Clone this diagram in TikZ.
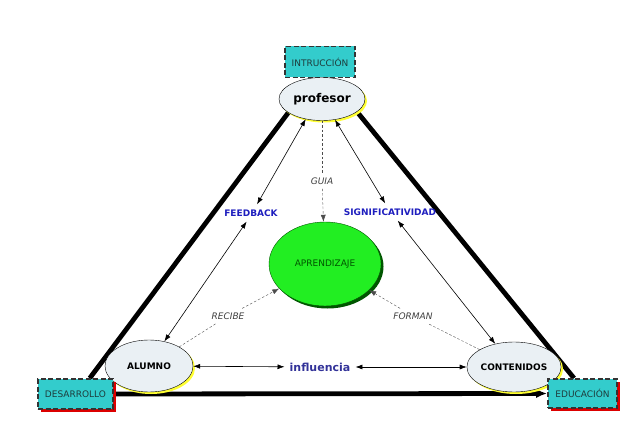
\documentclass[tikz,border=0pt]{standalone}
\usepackage{fontspec}
\setmainfont{DejaVu Sans}
\usepackage{xcolor}
\usepackage{tikz}
\usetikzlibrary{shapes,arrows,arrows.meta,shadows,backgrounds}
\definecolor{turquesa}{RGB}{51,204,204}
\definecolor{grisazul}{RGB}{234,240,244}
\definecolor{amarillo}{RGB}{255,255,51}
\definecolor{verde}{RGB}{34,238,34}
\definecolor{verdeosc}{RGB}{0,85,0}
\definecolor{azul}{RGB}{30,30,190}
\definecolor{azulinf}{RGB}{51,51,153}
\definecolor{rojo}{RGB}{220,0,0}
\definecolor{textocaja}{RGB}{30,60,60}

\begin{document}
\begin{tikzpicture}[x=1pt,y=-1pt,>={Latex[length=7pt,width=5pt]},
        elipse/.style={ellipse,draw,thin,fill=grisazul,inner sep=0pt,
          drop shadow={fill=amarillo,opacity=1,shadow xshift=2pt,shadow yshift=-2pt}},
        caja/.style={rectangle,draw=black!80,line width=1.6pt,dash pattern=on 5pt off 2.5pt,
          fill=turquesa,inner sep=0pt,text=textocaja,font=\fontsize{9}{11}\selectfont},
        sombraroja/.style={drop shadow={fill=rojo,opacity=1,shadow xshift=3pt,shadow yshift=-3pt}},
        etiqueta/.style={inner sep=5pt,text=azul,font=\bfseries\fontsize{9}{11}\selectfont},
        verbo/.style={inner sep=4pt,text=black!75,font=\itshape\fontsize{9}{11}\selectfont},
        gruesa/.style={line width=4.8pt},
        flecha/.style={<->,semithick},
        punteada/.style={black!70,dash pattern=on 2.5pt off 2pt}]
        \useasboundingbox (0,0) rectangle (643,441);
        % vertices
        \node[caja,minimum width=70pt,minimum height=31pt] (instr) at (320,62) {INTRUCCIÓN};
        \node[elipse,minimum width=86pt,minimum height=43pt,font=\bfseries\fontsize{12}{14}\selectfont] (prof) at (322,99) {profesor};
        \node[elipse,minimum width=88pt,minimum height=52pt,font=\bfseries\fontsize{9}{11}\selectfont] (alumno) at (149,366) {ALUMNO};
        \node[elipse,minimum width=93pt,minimum height=50pt,font=\bfseries\fontsize{9}{11}\selectfont] (contenidos) at (514,367) {CONTENIDOS};
        \node[caja,sombraroja,minimum width=75pt,minimum height=30pt] (desarr) at (75.5,394) {DESARROLLO};
        \node[caja,sombraroja,minimum width=69pt,minimum height=29pt] (educ) at (582.5,393.5) {EDUCACIÓN};
        % centro
        \node[ellipse,draw=verdeosc,fill=verde,minimum width=112pt,minimum height=84pt,
          drop shadow={fill=verdeosc,opacity=1,shadow xshift=2.5pt,shadow yshift=-2.5pt},
          text=verdeosc,font=\fontsize{9}{11}\selectfont] (aprend) at (325,264) {APRENDIZAJE};
        % etiquetas
        \node[etiqueta] (feedback) at (251,213) {FEEDBACK};
        \node[etiqueta] (signif) at (390,212) {SIGNIFICATIVIDAD};
        \node[verbo] (guia) at (322,181) {GUIA};
        \node[verbo] (recibe) at (228,316) {RECIBE};
        \node[verbo] (forman) at (413,316) {FORMAN};
        \node[inner sep=5pt,text=azulinf,font=\bfseries\fontsize{11}{13}\selectfont] (influ) at (320,367) {influencia};
        % lados del triangulo
        \begin{scope}[on background layer]
        \draw[gruesa] (prof.202) -- (desarr.48);
        \draw[gruesa] (prof.340) -- (educ.119);
        \draw[gruesa,-{Latex[length=11pt,width=9pt]}] (desarr.east) -- (educ.west);
        \end{scope}
        % flechas
        \draw[flecha] (prof.231) -- (feedback.55);
        \draw[flecha] (feedback.243) -- (alumno.58);
        \draw[flecha] (prof.302) -- (signif.119);
        \draw[flecha] (signif.312) -- (contenidos.129);
        \draw[flecha] (alumno) -- (influ);
        \draw[flecha] (influ) -- (contenidos);
        % lineas discontinuas
        \draw[punteada] (prof) -- (guia);
        \draw[punteada,->] (guia) -- (aprend);
        \draw[punteada] (alumno) -- (recibe);
        \draw[punteada,->] (recibe) -- (aprend);
        \draw[punteada] (contenidos) -- (forman);
        \draw[punteada,->] (forman) -- (aprend);
\end{tikzpicture}
\end{document}
